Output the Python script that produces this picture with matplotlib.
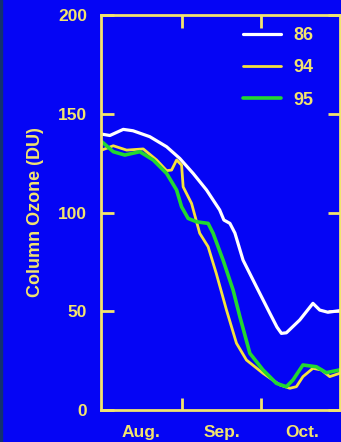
import matplotlib
matplotlib.use('Agg')
import matplotlib.pyplot as plt
from matplotlib.patches import Rectangle

# day index: 0 = Aug 1, 31 = Sep 1, 61 = Oct 1
days_86 = [0.3, 3.4, 8.5, 12.2, 18.6, 25.0, 30.0, 35.1, 40.2, 45.2, 46.8, 49.1,
           51.0, 54.1, 59.2, 64.3, 67.0, 68.7, 70.6, 75.7, 80.7, 83.3, 86.4, 90.9]
ozone_86 = [139.7, 139.0, 142.1, 141.4, 138.4, 133.3, 127.4, 119.8, 111.4, 101.3, 96.2, 94.5,
            89.6, 75.9, 62.4, 49.0, 42.0, 38.8, 39.1, 45.6, 54.0, 50.6, 49.5, 50.3]

days_94 = [0.3, 4.7, 9.8, 16.1, 21.2, 25.0, 26.9, 28.8, 30.7, 31.3, 34.5, 37.6, 40.8,
           43.9, 47.8, 51.6, 55.4, 61.7, 68.1, 71.9, 74.4, 76.9, 80.7, 83.9, 87.1, 90.9]
ozone_94 = [131.6, 133.8, 131.6, 132.2, 126.6, 121.2, 121.5, 126.6, 124.0, 113.0, 104.6, 89.5, 82.7,
            69.2, 50.6, 33.8, 25.3, 18.6, 12.7, 11.0, 11.8, 16.9, 21.1, 20.3, 16.9, 18.6]

days_95 = [0.3, 4.7, 9.1, 14.8, 19.9, 25.0, 28.8, 30.7, 33.2, 36.4, 40.8, 42.7, 46.5,
           50.3, 52.9, 56.7, 61.7, 66.8, 70.6, 73.1, 76.9, 82.0, 85.8, 90.9]
ozone_95 = [135.9, 130.8, 129.1, 130.8, 126.6, 119.8, 111.4, 102.9, 97.0, 95.3, 94.5, 89.5, 75.9,
            60.8, 47.2, 28.7, 20.3, 13.5, 11.8, 15.2, 22.8, 21.9, 18.9, 20.3]

month_labels = ['Aug.', 'Sep.', 'Oct.']
month_mid = [15.2, 46.0, 76.5]
month_bounds = [31, 61]
y_ticks = [0, 50, 100, 150, 200]

BG = '#0505F5'
YEL = '#F2E46E'
plt.rcParams['font.family'] = ['Liberation Sans', 'DejaVu Sans']

fig = plt.figure(figsize=(3.41, 4.42), dpi=100, facecolor=BG)
fig.patches.append(Rectangle((0, 0), 0.006, 1, transform=fig.transFigure,
                             color='#123070', zorder=0))
ax = fig.add_axes([0.296, 0.0724, 0.701, 0.8936], facecolor=BG)

kw = dict(solid_joinstyle='round', solid_capstyle='round')
ax.plot(days_86, ozone_86, color='white', lw=2.3, label='86', **kw)
ax.plot(days_94, ozone_94, color='#F5E23C', lw=2.0, label='94', **kw)
ax.plot(days_95, ozone_95, color='#22D830', lw=2.6, label='95', **kw)

ax.set_xlim(0, 91)
ax.set_ylim(0, 200)
for s in ax.spines.values():
    s.set_color(YEL)
    s.set_linewidth(2)

ax.set_yticks(y_ticks)
ax.set_xticks(month_bounds)
ax.set_xticklabels([])
ax.set_xticks(month_mid, minor=True)
ax.set_xticklabels(month_labels, minor=True)
ax.tick_params(axis='x', which='major', direction='in', length=9, width=2,
               color=YEL, top=True)
ax.tick_params(axis='x', which='minor', length=0, pad=11, labelcolor=YEL,
               labelsize=12.5)
ax.tick_params(axis='y', direction='in', length=9, width=2, color=YEL,
               right=True, labelcolor=YEL, labelsize=12.5, pad=10)
for lab in ax.get_xticklabels(minor=True) + ax.get_yticklabels():
    lab.set_fontweight('bold')

ax.set_ylabel('Column Ozone (DU)', color=YEL, fontsize=13, fontweight='bold',
              labelpad=10)

leg = ax.legend(loc='upper right', bbox_to_anchor=(0.89, 0.97), frameon=False,
                handlelength=2.1, handletextpad=0.7, labelspacing=0.85,
                borderaxespad=0, borderpad=0,
                prop={'weight': 'bold', 'size': 13})
for t in leg.get_texts():
    t.set_color(YEL)

fig.savefig('out.png', dpi=100, facecolor=BG)
